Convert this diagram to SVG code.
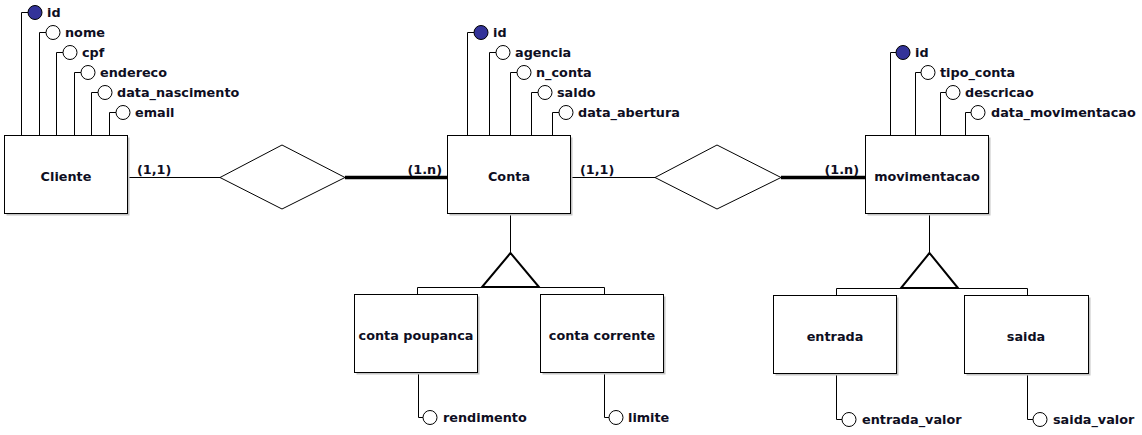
<svg xmlns="http://www.w3.org/2000/svg" width="1142" height="435" viewBox="0 0 1142 435">
<style>
.box{fill:#fff;stroke:#000;stroke-width:1}
.sh{fill:#c4c4c4}
.ln{fill:none;stroke:#000;stroke-width:1}
.thick{fill:none;stroke:#000;stroke-width:3.5}
.tri{fill:#fff;stroke:#000;stroke-width:2;stroke-linejoin:miter}
.att{fill:#fff;stroke:#000;stroke-width:1}
.pk{fill:#333399;stroke:#000;stroke-width:1}
text{font-family:"DejaVu Sans",Verdana,sans-serif;font-weight:bold;font-size:12.8px;fill:#0e0e22}
.c{text-anchor:middle}
.e{text-anchor:end}
</style>
<rect width="1142" height="435" fill="#fff"/>
<g id="connectors">
<polyline class="ln" points="21.5,135 21.5,12.5 28,12.5"/>
<polyline class="ln" points="39.5,135 39.5,32.5 46,32.5"/>
<polyline class="ln" points="56.5,135 56.5,52.5 63,52.5"/>
<polyline class="ln" points="74.5,135 74.5,72.5 81,72.5"/>
<polyline class="ln" points="91.5,135 91.5,92.5 98,92.5"/>
<polyline class="ln" points="109.5,135 109.5,112.5 116,112.5"/>
<polyline class="ln" points="467.5,135 467.5,32.5 474,32.5"/>
<polyline class="ln" points="489.5,135 489.5,52.5 496,52.5"/>
<polyline class="ln" points="510.5,135 510.5,72.5 517,72.5"/>
<polyline class="ln" points="531.5,135 531.5,92.5 538,92.5"/>
<polyline class="ln" points="552.5,135 552.5,112.5 559,112.5"/>
<polyline class="ln" points="890.5,135 890.5,52.5 896,52.5"/>
<polyline class="ln" points="915.5,135 915.5,72.5 921,72.5"/>
<polyline class="ln" points="940.5,135 940.5,92.5 946,92.5"/>
<polyline class="ln" points="965.5,135 965.5,112.5 971,112.5"/>
<polyline class="ln" points="418.5,373 418.5,417.5 423,417.5"/>
<polyline class="ln" points="604.5,373 604.5,417.5 609,417.5"/>
<polyline class="ln" points="836.5,374 836.5,419.5 842,419.5"/>
<polyline class="ln" points="1027.5,374 1027.5,419.5 1033,419.5"/>
<line class="ln" x1="128" y1="177.5" x2="220" y2="177.5"/>
<line class="thick" x1="345" y1="177.5" x2="447" y2="177.5"/>
<line class="ln" x1="571" y1="177.5" x2="655" y2="177.5"/>
<line class="thick" x1="781" y1="177.5" x2="865" y2="177.5"/>
<line class="ln" x1="510.5" y1="214" x2="510.5" y2="253"/>
<polyline class="ln" points="417.5,294.5 417.5,287.5 604.5,287.5 604.5,294.5"/>
<polygon class="tri" points="510.5,253 482,287 539,287"/>
<line class="ln" x1="929.5" y1="214" x2="929.5" y2="253"/>
<polyline class="ln" points="836.5,295.5 836.5,288.5 1027.5,288.5 1027.5,295.5"/>
<polygon class="tri" points="929.5,253 901,288 958,288"/>
<text x="137" y="174">(1,1)</text>
<text class="e" x="442" y="174">(1.n)</text>
<text x="580" y="174">(1,1)</text>
<text class="e" x="859" y="174">(1.n)</text>
</g>
<g id="Cliente">
<rect class="sh" x="6.5" y="137.5" width="123" height="78"/>
<rect class="box" x="4.5" y="135.5" width="123" height="78"/>
<text class="c" x="66" y="181">Cliente</text>
</g>
<g id="Conta">
<rect class="sh" x="449.5" y="137.5" width="123" height="78"/>
<rect class="box" x="447.5" y="135.5" width="123" height="78"/>
<text class="c" x="509" y="181">Conta</text>
</g>
<g id="movimentacao">
<rect class="sh" x="867.5" y="137.5" width="123" height="78"/>
<rect class="box" x="865.5" y="135.5" width="123" height="78"/>
<text class="c" x="927" y="181">movimentacao</text>
</g>
<g id="conta_poupanca">
<rect class="sh" x="356.5" y="296.5" width="123" height="78"/>
<rect class="box" x="354.5" y="294.5" width="123" height="78"/>
<text class="c" x="416" y="340">conta poupanca</text>
</g>
<g id="conta_corrente">
<rect class="sh" x="542.5" y="296.5" width="123" height="78"/>
<rect class="box" x="540.5" y="294.5" width="123" height="78"/>
<text class="c" x="602" y="340">conta corrente</text>
</g>
<g id="entrada">
<rect class="sh" x="775.5" y="297.5" width="123" height="78"/>
<rect class="box" x="773.5" y="295.5" width="123" height="78"/>
<text class="c" x="835" y="341">entrada</text>
</g>
<g id="saida">
<rect class="sh" x="966.5" y="297.5" width="124" height="78"/>
<rect class="box" x="964.5" y="295.5" width="124" height="78"/>
<text class="c" x="1026" y="341">saida</text>
</g>
<g id="rel_cliente_conta">
<polygon class="box" points="220,177.5 282,145 345,177.5 282,209"/>
</g>
<g id="rel_conta_movimentacao">
<polygon class="box" points="655,177.5 717,145 781,177.5 717,209"/>
</g>
<g id="attr_cliente_id"><circle class="pk" cx="35" cy="12.5" r="7"/><text x="47" y="17">id</text></g>
<g id="attr_cliente_nome"><circle class="att" cx="53" cy="32.5" r="7"/><text x="65" y="37">nome</text></g>
<g id="attr_cliente_cpf"><circle class="att" cx="70" cy="52.5" r="7"/><text x="82" y="57">cpf</text></g>
<g id="attr_cliente_endereco"><circle class="att" cx="88" cy="72.5" r="7"/><text x="100" y="77">endereco</text></g>
<g id="attr_cliente_data_nascimento"><circle class="att" cx="105" cy="92.5" r="7"/><text x="117" y="97">data_nascimento</text></g>
<g id="attr_cliente_email"><circle class="att" cx="123" cy="112.5" r="7"/><text x="135" y="117">email</text></g>
<g id="attr_conta_id"><circle class="pk" cx="481" cy="32.5" r="7"/><text x="493" y="37">id</text></g>
<g id="attr_conta_agencia"><circle class="att" cx="503" cy="52.5" r="7"/><text x="515" y="57">agencia</text></g>
<g id="attr_conta_n_conta"><circle class="att" cx="524" cy="72.5" r="7"/><text x="536" y="77">n_conta</text></g>
<g id="attr_conta_saldo"><circle class="att" cx="545" cy="92.5" r="7"/><text x="557" y="97">saldo</text></g>
<g id="attr_conta_data_abertura"><circle class="att" cx="566" cy="112.5" r="7"/><text x="578" y="117">data_abertura</text></g>
<g id="attr_mov_id"><circle class="pk" cx="903" cy="52.5" r="7"/><text x="915" y="57">id</text></g>
<g id="attr_mov_tipo_conta"><circle class="att" cx="928" cy="72.5" r="7"/><text x="940" y="77">tipo_conta</text></g>
<g id="attr_mov_descricao"><circle class="att" cx="953" cy="92.5" r="7"/><text x="965" y="97">descricao</text></g>
<g id="attr_mov_data_movimentacao"><circle class="att" cx="978" cy="112.5" r="7"/><text x="991" y="117">data_movimentacao</text></g>
<g id="attr_rendimento"><circle class="att" cx="430" cy="417.5" r="7"/><text x="443" y="422">rendimento</text></g>
<g id="attr_limite"><circle class="att" cx="616" cy="417.5" r="7"/><text x="628" y="422">limite</text></g>
<g id="attr_entrada_valor"><circle class="att" cx="849" cy="419.5" r="7"/><text x="862" y="424">entrada_valor</text></g>
<g id="attr_saida_valor"><circle class="att" cx="1040" cy="419.5" r="7"/><text x="1053" y="424">saida_valor</text></g>
</svg>
